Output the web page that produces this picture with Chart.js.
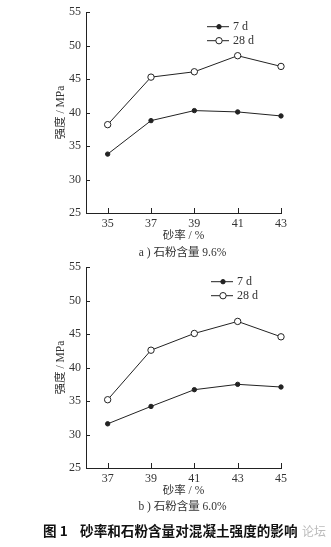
<!DOCTYPE html>
<html>
<head>
<meta charset="utf-8">
<script src="https://cdn.jsdelivr.net/npm/chart.js@4"></script>
<style>
  html, body { margin: 0; padding: 0; background: #fff; }
  #wrap { position: relative; width: 331px; height: 547px; overflow: hidden; }
  canvas { position: absolute; left: 0; }
  .cap { position: absolute; left: 17px; width: 331px; text-align: center; color: #333;
         font-family: "Liberation Serif", "Noto Sans CJK SC", serif; font-size: 11.5px; line-height: 14px; }
  #fig { position: absolute; left: 43px; top: 521px; color: #111; font-weight: bold;
         font-family: "Noto Sans CJK SC", sans-serif; font-size: 13.6px; line-height: 18px; white-space: nowrap; }
  #wm { position: absolute; left: 302px; top: 523px; color: #bbb;
         font-family: "Noto Sans CJK SC", sans-serif; font-size: 12px; line-height: 16px; }
</style>
</head>
<body>
<div id="wrap">
  <canvas id="c1" width="331" height="245" style="top:0px"></canvas>
  <canvas id="c2" width="331" height="245" style="top:255px"></canvas>
  <div class="cap" style="top:245px">a ) 石粉含量 9.6%</div>
  <div class="cap" style="top:499px">b ) 石粉含量 6.0%</div>
  <div id="fig">图 1&nbsp;&nbsp;&nbsp; 砂率和石粉含量对混凝土强度的影响</div>
  <div id="wm">论坛</div>
</div>
<script>
// Sand ratio (%) and compressive strength (MPa), two stone-powder contents
const sandRatioA = [35, 37, 39, 41, 43];
const strength7dA = [33.8, 38.8, 40.3, 40.1, 39.5];
const strength28dA = [38.2, 45.3, 46.1, 48.5, 46.9];

const sandRatioB = [37, 39, 41, 43, 45];
const strength7dB = [31.6, 34.2, 36.7, 37.5, 37.1];
const strength28dB = [35.2, 42.6, 45.1, 46.9, 44.6];

const seriesNames = ['7 d', '28 d'];
const yTicks = [25, 30, 35, 40, 45, 50, 55];
const xTitle = '砂率 / %';
const yTitle = '强度 / MPa';

const FONT = '"Liberation Serif", "Noto Sans CJK SC", serif';
const INK = '#222';

// Short tick marks pointing into the plot area
const innerTicks = {
  id: 'innerTicks',
  afterDraw(chart) {
    const ctx = chart.ctx, a = chart.chartArea;
    const xs = chart.scales.x, ys = chart.scales.y;
    ctx.save();
    ctx.strokeStyle = INK;
    ctx.lineWidth = 1;
    ctx.beginPath();
    xs.ticks.forEach(t => {
      const px = Math.round(xs.getPixelForValue(t.value)) + 0.5;
      ctx.moveTo(px, a.bottom);
      ctx.lineTo(px, a.bottom - 5);
    });
    ys.ticks.forEach(t => {
      const py = Math.round(ys.getPixelForValue(t.value)) + 0.5;
      ctx.moveTo(a.left, py);
      ctx.lineTo(a.left + 4, py);
    });
    ctx.stroke();
    ctx.restore();
  }
};

// Legend drawn as line + marker samples, taken from the datasets' own styles
const lineLegend = {
  id: 'lineLegend',
  afterDraw(chart) {
    const ctx = chart.ctx, a = chart.chartArea;
    const opt = chart.options.plugins.lineLegend;
    const x0 = a.left + opt.dx, y0 = a.top + opt.dy;
    ctx.save();
    chart.data.datasets.forEach((ds, i) => {
      const y = y0 + i * 14;
      ctx.strokeStyle = ds.borderColor;
      ctx.lineWidth = 1;
      ctx.beginPath();
      ctx.moveTo(x0, y + 0.5);
      ctx.lineTo(x0 + 22, y + 0.5);
      ctx.stroke();
      ctx.beginPath();
      ctx.arc(x0 + 12, y + 0.5, ds.pointRadius, 0, Math.PI * 2);
      ctx.fillStyle = ds.pointBackgroundColor;
      ctx.fill();
      ctx.strokeStyle = ds.pointBorderColor;
      ctx.stroke();
      ctx.fillStyle = '#333';
      ctx.font = '12px ' + FONT;
      ctx.textBaseline = 'middle';
      ctx.fillText(ds.label, x0 + 26, y + 1);
    });
    ctx.restore();
  }
};

function makeChart(id, xs, s7, s28, xMin, xMax, legendDx) {
  const pts = arr => arr.map((v, i) => ({ x: xs[i], y: v }));
  return new Chart(document.getElementById(id), {
    type: 'line',
    data: {
      datasets: [
        { label: seriesNames[0], data: pts(s7), borderColor: INK, borderWidth: 1, clip: false,
          pointRadius: 2.2, pointBackgroundColor: INK, pointBorderColor: INK, pointBorderWidth: 1, tension: 0 },
        { label: seriesNames[1], data: pts(s28), borderColor: INK, borderWidth: 1, clip: false,
          pointRadius: 3.2, pointBackgroundColor: '#fff', pointBorderColor: INK, pointBorderWidth: 1, tension: 0 }
      ]
    },
    options: {
      responsive: false,
      devicePixelRatio: 1,
      animation: false,
      layout: { padding: { left: 54, right: 50, top: 11, bottom: 0 } },
      plugins: {
        legend: { display: false },
        tooltip: { enabled: false },
        lineLegend: { dx: legendDx, dy: 14 }
      },
      scales: {
        x: {
          type: 'linear', min: xMin, max: xMax,
          afterBuildTicks: s => { s.ticks = xs.map(v => ({ value: v })); },
          afterFit: s => { s.height = 32; },
          grid: { display: false, drawTicks: false },
          border: { display: true, color: INK, width: 1 },
          ticks: { padding: 4, color: '#333', font: { family: FONT, size: 12 }, maxRotation: 0 },
          title: { display: true, text: xTitle, color: '#333', padding: { top: 0, bottom: 2 },
                   font: { family: FONT, size: 11.5 } }
        },
        y: {
          min: 25, max: 55,
          afterBuildTicks: s => { s.ticks = yTicks.map(v => ({ value: v })); },
          afterFit: s => { s.width = 32; },
          grid: { display: false, drawTicks: false },
          border: { display: true, color: INK, width: 1 },
          ticks: { padding: 5, color: '#333', font: { family: FONT, size: 12 } },
          title: { display: true, text: yTitle, color: '#333', padding: { top: 0, bottom: 0 },
                   font: { family: FONT, size: 11.5 } }
        }
      }
    },
    plugins: [innerTicks, lineLegend]
  });
}

makeChart('c1', sandRatioA, strength7dA, strength28dA, 34, 43, 121);
makeChart('c2', sandRatioB, strength7dB, strength28dB, 36, 45, 125);
</script>
</body>
</html>
